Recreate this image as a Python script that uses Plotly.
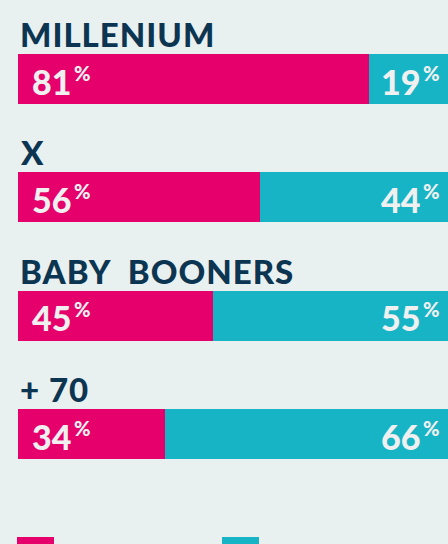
import plotly.graph_objects as go

categories = ["MILLENIUM", "X", "BABY  BOONERS", "+ 70"]
pink_values = [81, 56, 45, 34]
teal_values = [19, 44, 55, 66]
series_names = ["Sí", "No"]

PINK = "#E5006B"
TEAL = "#17B4C6"
NAVY = "#0C3552"
BG = "#E9F0F0"
TXT = "#F0F0F0"
FONT = "Lato"

fig = go.Figure()
fig.add_trace(go.Bar(y=categories, x=pink_values, orientation="h", marker_color=PINK,
                     marker_line_width=0, width=0.422, name=series_names[0], hoverinfo="skip"))
fig.add_trace(go.Bar(y=categories, x=teal_values, orientation="h", marker_color=TEAL,
                     marker_line_width=0, width=0.422, name=series_names[1], hoverinfo="skip"))


def pct(v):
    return f"{v}<sup><span style='font-size:20px'>\u2009%</span></sup>"


annotations = []
for i, cat in enumerate(categories):
    annotations.append(dict(
        xref="paper", yref="y", x=0, y=i, xanchor="left", yanchor="bottom", yshift=23,
        text=f"<span style='letter-spacing:1px'>{cat}</span>", showarrow=False,
        font=dict(family=FONT, size=33, color=NAVY, weight=900)))
    annotations.append(dict(
        xref="x", yref="y", x=0, y=i, xanchor="left", yanchor="middle", xshift=12, yshift=-2,
        text=pct(pink_values[i]), showarrow=False,
        font=dict(family=FONT, size=34, color=TXT, weight=900)))
    annotations.append(dict(
        xref="paper", yref="y", x=1, y=i, xanchor="right", yanchor="middle", xshift=-6, yshift=-2,
        text=pct(teal_values[i]), showarrow=False,
        font=dict(family=FONT, size=34, color=TXT, weight=900)))

shapes = [
    dict(type="rect", xref="paper", yref="paper", x0=-1/430, x1=36/430, y0=1 - 537/544, y1=-0.05,
         fillcolor=PINK, line_width=0, layer="above"),
    dict(type="rect", xref="paper", yref="paper", x0=204/430, x1=241/430, y0=1 - 537/544, y1=-0.05,
         fillcolor=TEAL, line_width=0, layer="above"),
]

fig.update_layout(
    barmode="stack",
    width=448, height=544, autosize=False,
    margin=dict(l=18, r=0, t=0, b=0, pad=0),
    paper_bgcolor=BG, plot_bgcolor=BG,
    showlegend=False,
    xaxis=dict(range=[0, 100 * 430 / 433], visible=False, fixedrange=True),
    yaxis=dict(type="category", categoryarray=categories, range=[3.926, -0.667],
               autorange=False, visible=False, fixedrange=True),
    annotations=annotations,
    shapes=shapes,
)

fig.write_html("out.html", config={"displayModeBar": False},
               post_script="document.body.style.margin='0';document.body.style.overflow='hidden';document.body.style.background='" + BG + "';")
